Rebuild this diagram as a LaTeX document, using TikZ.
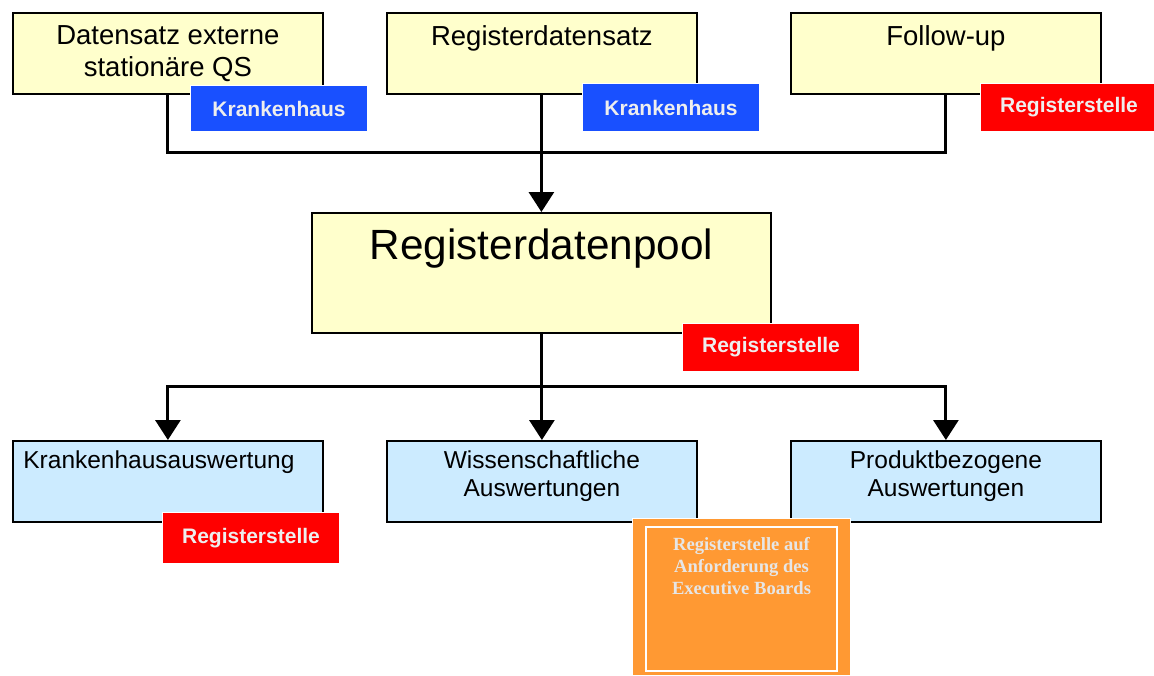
\documentclass[tikz,border=0pt]{standalone}
\usepackage{fontspec}
\setmainfont{Liberation Sans}
\newfontfamily\boardfont{Liberation Serif}
\usetikzlibrary{arrows.meta}

\definecolor{poolyellow}{RGB}{255,255,204}
\definecolor{evalblue}{RGB}{204,235,255}
\definecolor{tagblue}{RGB}{25,80,255}
\definecolor{tagred}{RGB}{255,0,0}
\definecolor{boardorange}{RGB}{255,153,51}
\definecolor{taggrey}{RGB}{238,238,238}
\definecolor{boardgrey}{RGB}{230,230,230}

\begin{document}
\begin{tikzpicture}[x=1pt,y=-1pt]
    \tikzstyle{box}=[draw=black,line width=1.8pt,anchor=north west,minimum width=310pt,minimum height=81pt,inner sep=0pt]
    \tikzstyle{boxtext}=[anchor=north,align=center,inner sep=0pt,font=\fontsize{27.5}{32}\selectfont]
    \tikzstyle{evaltext}=[anchor=north,align=center,inner sep=0pt,font=\fontsize{24.5}{28}\selectfont]
    \tikzstyle{tag}=[draw=white,line width=1pt,anchor=north west,minimum width=177pt,minimum height=48pt,inner sep=0pt,text=taggrey,font=\bfseries\fontsize{21}{25}\selectfont]
    \tikzstyle{conn}=[line width=3pt,line cap=rect]
    \tikzstyle{arr}=[line width=3pt,-{Triangle[width=25pt,length=20pt]}]
    \useasboundingbox (0,0) rectangle (1154,675);

    % input data sets
    \foreach \num/\x/\txt in {1/12/{Datensatz externe\\stationäre QS}, 2/386/{Registerdatensatz}, 3/790/{Follow-up}}
    {
        \node[box,fill=poolyellow] (T-\num) at (\x,12) {};
        \node[boxtext] (T-\num-txt) at ([yshift=-13pt]T-\num.north) {\txt};
    }

    % pool
    \node[box,fill=poolyellow,minimum width=459pt,minimum height=120pt] (pool) at (311,212) {};
    \node[anchor=north,inner sep=0pt,font=\fontsize{42.3}{48}\selectfont] (pool-txt) at ([yshift=-17pt]pool.north) {Registerdatenpool};

    % evaluations
    \foreach \num/\x/\dx/\txt in {1/12/-9/{Krankenhausauswertung}, 2/386/0/{Wissenschaftliche\\Auswertungen}, 3/790/0/{Produktbezogene\\Auswertungen}}
    {
        \node[box,fill=evalblue] (B-\num) at (\x,440) {};
        \node[evaltext] (B-\num-txt) at ([xshift=\dx pt,yshift=-11pt]B-\num.north) {\txt};
    }

    % connectors
    \coordinate (in-L) at (T-1.south |- 0,152);
    \coordinate (in-R) at (T-3.south |- 0,152);
    \draw[conn] (T-1.south) -- (in-L) -- (in-R) -- (T-3.south);
    \draw[arr] (pool.north |- T-2.south) -- (pool.north);

    \coordinate (out-L) at (B-1.north |- 0,386);
    \coordinate (out-R) at (B-3.north |- 0,386);
    \draw[conn] (pool.south) -- (pool.south |- out-L);
    \draw[conn] (out-L) -- (out-R);
    \foreach \num in {1,2,3}
        \draw[arr] (B-\num.north |- out-L) -- (B-\num.north);

    % who delivers / evaluates
    \node[tag,fill=tagblue,minimum height=46pt] (tag-T-1) at (190,85) {Krankenhaus};
    \node[tag,fill=tagblue] (tag-T-2) at (582,83) {Krankenhaus};
    \node[tag,fill=tagred] (tag-T-3) at (980,83) {Registerstelle};
    \node[tag,fill=tagred] (tag-pool) at (682,323) {Registerstelle};
    \node[tag,fill=tagred,minimum height=51pt] (tag-B-1) at (162,512) {Registerstelle};

    \node[draw=white,line width=1pt,fill=boardorange,anchor=north west,minimum width=218pt,minimum height=157pt,inner sep=0pt] (board) at (632,518) {};
    \draw[white,line width=2pt] ([shift={(14,9)}]board.north west) rectangle ([shift={(-14,-5)}]board.south east);
    \node[anchor=north,align=center,inner sep=0pt,text=boardgrey,font=\boardfont\bfseries\fontsize{18.6}{22}\selectfont] (board-txt) at ([yshift=-19pt]board.north) {Registerstelle auf\\Anforderung des\\Executive Boards};
\end{tikzpicture}
\end{document}
